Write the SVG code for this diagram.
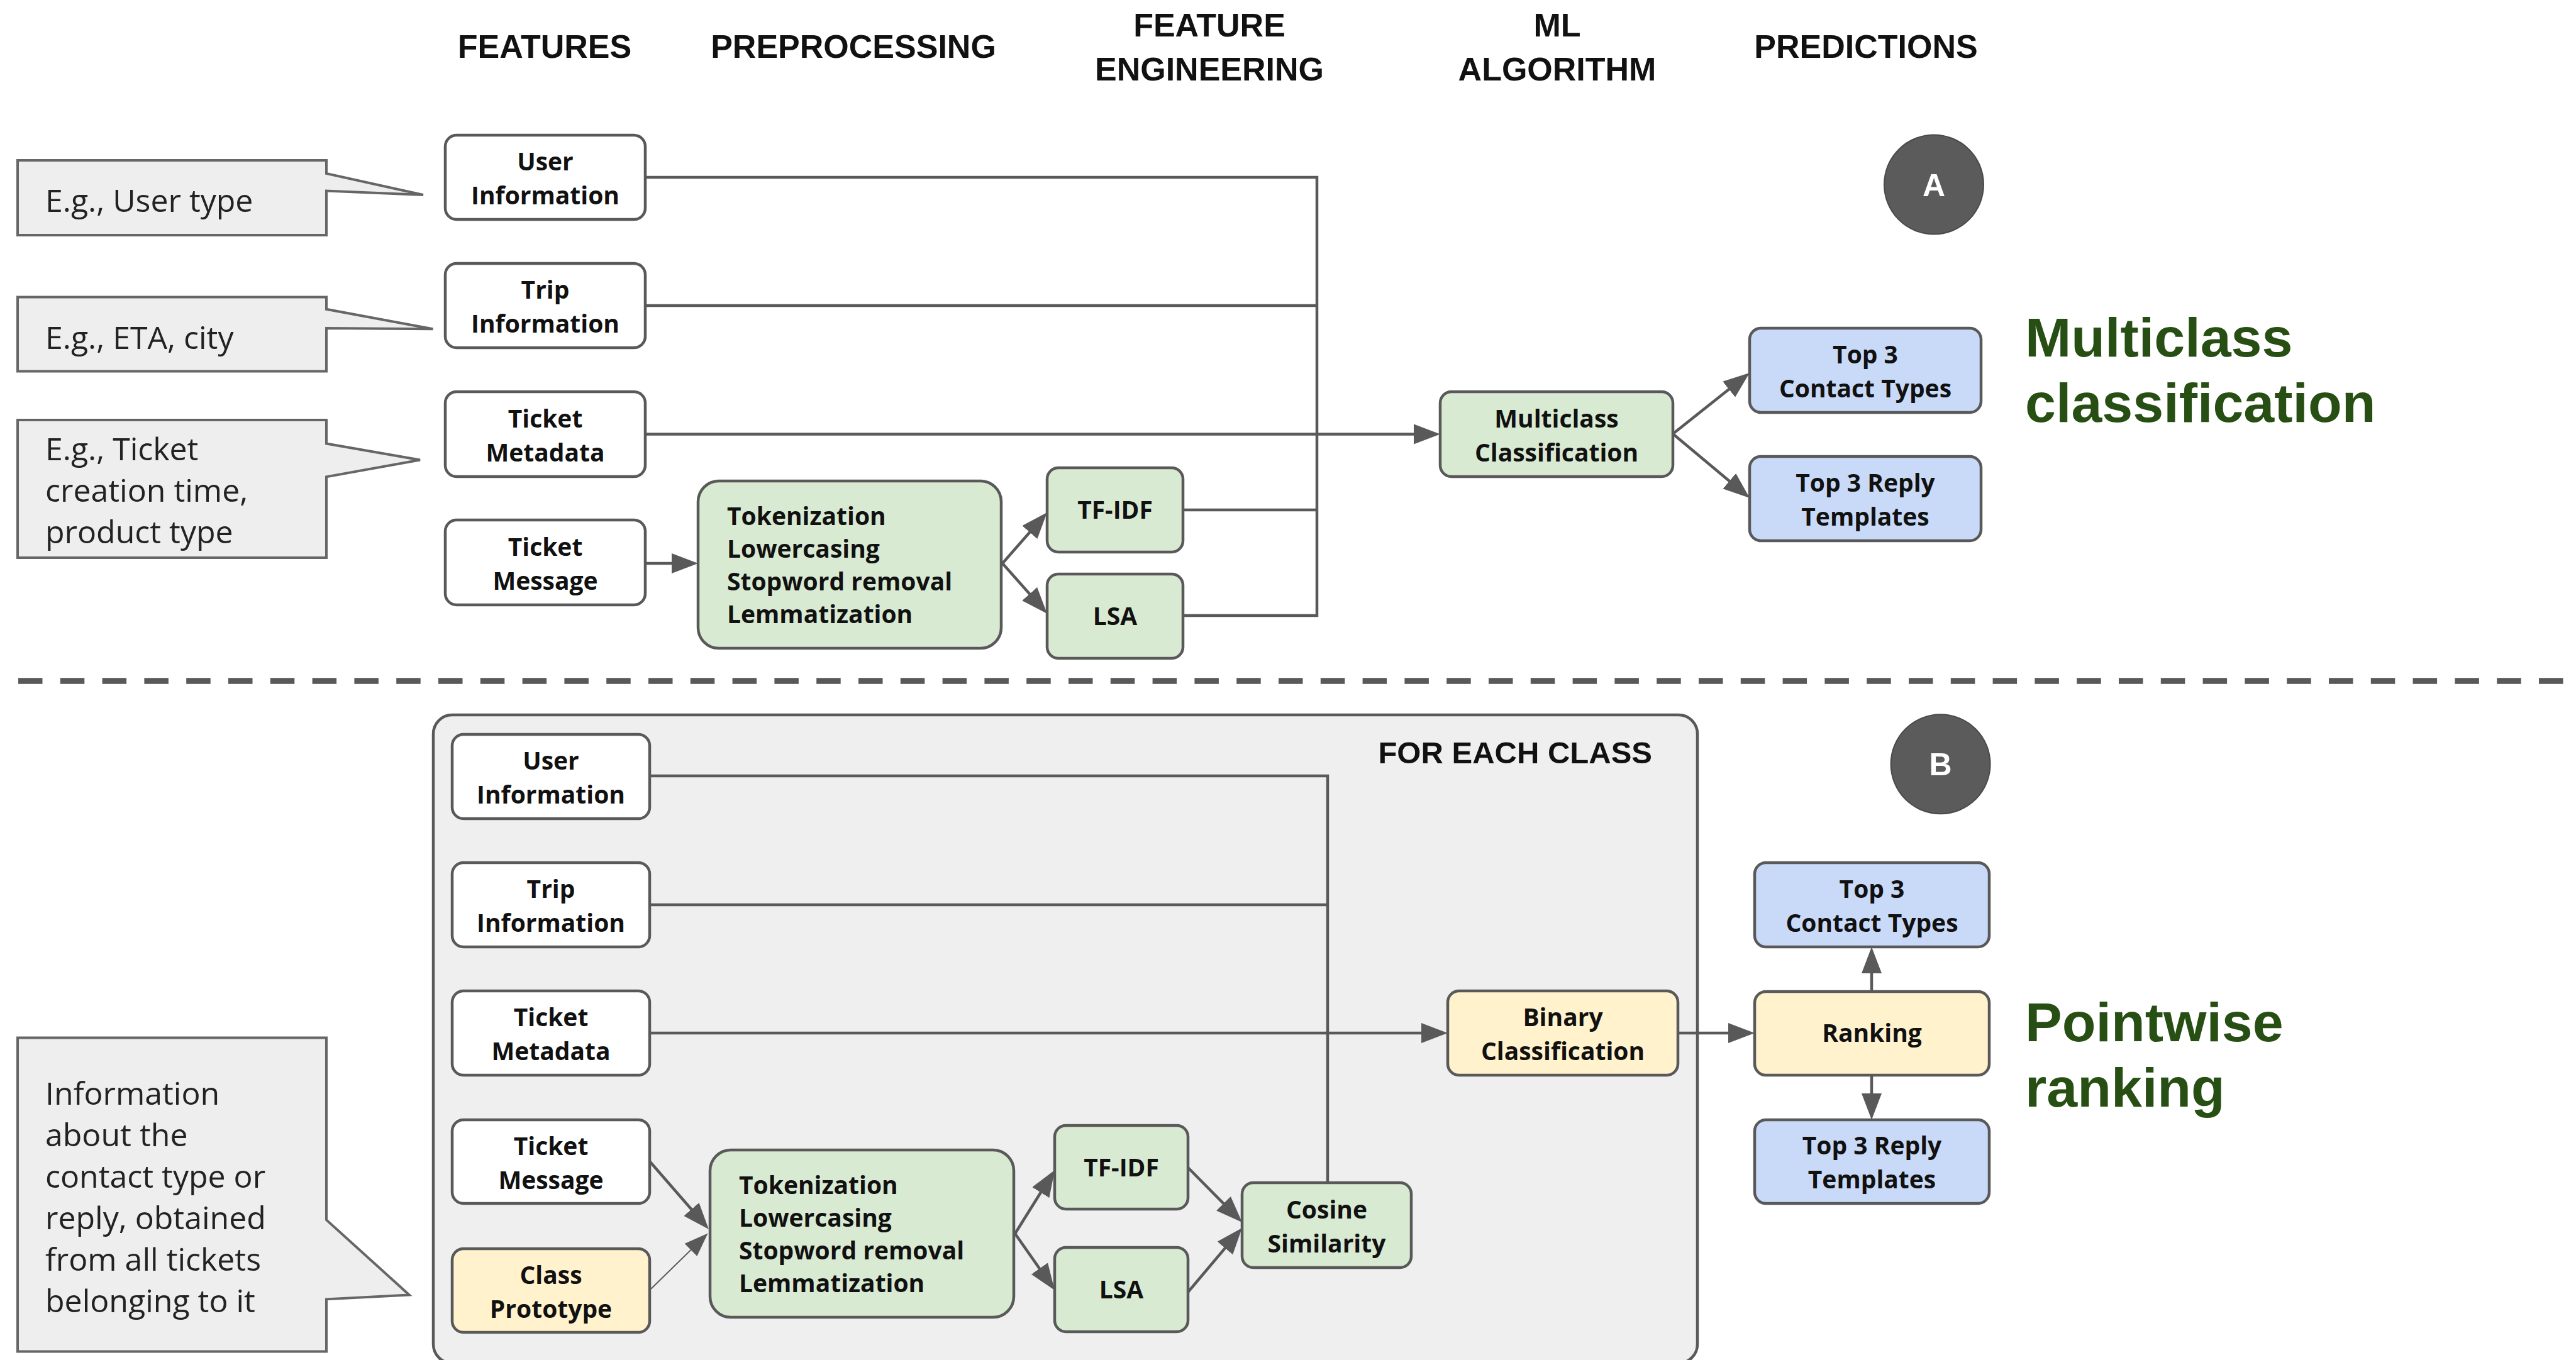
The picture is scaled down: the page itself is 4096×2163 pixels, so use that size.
<svg xmlns="http://www.w3.org/2000/svg" width="4096" height="2163" viewBox="0 0 4096 2163">
  <style>
    .hdr { font-family: "Liberation Sans", Arial, sans-serif; font-weight: 700; font-size: 52px; fill: #111; text-anchor: middle; }
    .node rect { stroke: #595959; stroke-width: 4.5; }
    .lbl { font-family: "Open Sans", "Liberation Sans", sans-serif; font-weight: 700; font-size: 39px; fill: #111; text-anchor: middle; }
    .lbl-left { font-family: "Open Sans", "Liberation Sans", sans-serif; font-weight: 700; font-size: 39px; fill: #111; }
    .white { fill: #ffffff; }
    .green { fill: #d9ead3; }
    .yellow { fill: #fff2cc; }
    .blue { fill: #c9daf8; }
    .note path { fill: #eeeeee; stroke: #666666; stroke-width: 4; }
    .note text { font-family: "Open Sans", "Liberation Sans", sans-serif; font-size: 50px; fill: #222; }
    .wire { fill: none; stroke: #595959; stroke-width: 4.5; }
    .thin { fill: none; stroke: #595959; stroke-width: 2; }
    .title { font-family: "Liberation Sans", Arial, sans-serif; font-weight: 700; font-size: 88px; fill: #274e13; }
    .badge circle { fill: #5b5b5b; stroke: #4a4a4a; stroke-width: 2; }
    .badge text { font-family: "Liberation Sans", Arial, sans-serif; font-weight: 700; font-size: 50px; fill: #ffffff; text-anchor: middle; }
  </style>
  <defs>
    <marker id="arrow" markerUnits="userSpaceOnUse" markerWidth="42" markerHeight="32" refX="34" refY="16" orient="auto">
      <path d="M0,0 L42,16 L0,32 Z" fill="#595959"/>
    </marker>
    <marker id="arrow-sm" markerUnits="userSpaceOnUse" markerWidth="38" markerHeight="28" refX="32" refY="14" orient="auto">
      <path d="M0,0 L38,14 L0,28 Z" fill="#595959"/>
    </marker>
  </defs>

  <rect width="4096" height="2163" fill="#ffffff"/>

  <!-- column headers -->
  <g id="headers">
    <text class="hdr" x="866" y="92">FEATURES</text>
    <text class="hdr" x="1357" y="92">PREPROCESSING</text>
    <text class="hdr" x="1923" y="58">FEATURE</text>
    <text class="hdr" x="1923" y="128">ENGINEERING</text>
    <text class="hdr" x="2476" y="58">ML</text>
    <text class="hdr" x="2476" y="128">ALGORITHM</text>
    <text class="hdr" x="2967" y="92">PREDICTIONS</text>
  </g>

  <!-- divider between the two pipelines -->
  <line id="divider" x1="29" y1="1083" x2="4080" y2="1083" stroke="#595959" stroke-width="9.6" stroke-dasharray="38.5 28.3"/>

  <!-- per-class container of pipeline B -->
  <g id="for-each-class">
    <rect x="689" y="1137" width="2010" height="1031" rx="30" fill="#efefef" stroke="#595959" stroke-width="4.5"/>
    <text x="2627" y="1214" font-family="Liberation Sans, Arial, sans-serif" font-weight="700" font-size="49" fill="#111" text-anchor="end">FOR EACH CLASS</text>
  </g>

  <!-- connectors -->
  <g id="connectors">
    <!-- pipeline A -->
    <path class="wire" d="M1026 282 H2094 V979 H1881"/>
    <path class="wire" d="M1026 486 H2094"/>
    <path class="wire" d="M1881 811 H2094"/>
    <path class="wire" d="M1026 690.5 H2282" marker-end="url(#arrow)"/>
    <path class="wire" d="M1026 896 H1102" marker-end="url(#arrow)"/>
    <path class="wire" d="M1594 896 L1659.7 821" marker-end="url(#arrow)"/>
    <path class="wire" d="M1594 896 L1659.7 970" marker-end="url(#arrow)"/>
    <path class="wire" d="M2660 690 L2775.7 598" marker-end="url(#arrow)"/>
    <path class="wire" d="M2660 690 L2775.9 786.9" marker-end="url(#arrow)"/>
    <!-- pipeline B -->
    <path class="wire" d="M1033 1234 H2111 V1881"/>
    <path class="wire" d="M1033 1439 H2111"/>
    <path class="wire" d="M1033 1643 H2294" marker-end="url(#arrow)"/>
    <path class="wire" d="M2668 1643 H2782" marker-end="url(#arrow)"/>
    <path class="wire" d="M2976 1577 V1514" marker-end="url(#arrow)"/>
    <path class="wire" d="M2976 1710 V1773" marker-end="url(#arrow)"/>
    <path class="wire" d="M1033 1847 L1121.7 1949" marker-end="url(#arrow)"/>
    <path class="thin" d="M1035 2050 L1121.3 1965.6" marker-end="url(#arrow-sm)"/>
    <path class="wire" d="M1614 1962 L1672.8 1867.8" marker-end="url(#arrow)"/>
    <path class="wire" d="M1614 1962 L1672.4 2045.4" marker-end="url(#arrow)"/>
    <path class="wire" d="M1889 1857 L1969.4 1938.3" marker-end="url(#arrow)"/>
    <path class="wire" d="M1889 2055 L1969.8 1959.1" marker-end="url(#arrow)"/>
  </g>

  <!-- pipeline A nodes -->
  <g id="a-user-info" class="node">
    <rect class="white" x="708" y="215" width="318" height="134" rx="18"/>
    <text class="lbl" x="867" y="271">User</text>
    <text class="lbl" x="867" y="325">Information</text>
  </g>
  <g id="a-trip-info" class="node">
    <rect class="white" x="708" y="419" width="318" height="134" rx="18"/>
    <text class="lbl" x="867" y="475">Trip</text>
    <text class="lbl" x="867" y="529">Information</text>
  </g>
  <g id="a-ticket-metadata" class="node">
    <rect class="white" x="708" y="623" width="318" height="135" rx="18"/>
    <text class="lbl" x="867" y="679.5">Ticket</text>
    <text class="lbl" x="867" y="733.5">Metadata</text>
  </g>
  <g id="a-ticket-message" class="node">
    <rect class="white" x="708" y="827" width="318" height="135" rx="18"/>
    <text class="lbl" x="867" y="883.5">Ticket</text>
    <text class="lbl" x="867" y="937.5">Message</text>
  </g>
  <g id="a-preprocessing" class="node">
    <rect class="green" x="1110" y="765" width="482" height="266" rx="33"/>
    <text class="lbl-left" x="1156" y="835">Tokenization</text>
    <text class="lbl-left" x="1156" y="887">Lowercasing</text>
    <text class="lbl-left" x="1156" y="939">Stopword removal</text>
    <text class="lbl-left" x="1156" y="991">Lemmatization</text>
  </g>
  <g id="a-tfidf" class="node">
    <rect class="green" x="1665" y="744" width="216" height="134" rx="18"/>
    <text class="lbl" x="1773" y="825">TF-IDF</text>
  </g>
  <g id="a-lsa" class="node">
    <rect class="green" x="1665" y="913" width="216" height="134" rx="18"/>
    <text class="lbl" x="1773" y="994">LSA</text>
  </g>
  <g id="a-multiclass" class="node">
    <rect class="green" x="2290" y="623" width="370" height="135" rx="18"/>
    <text class="lbl" x="2475" y="679.5">Multiclass</text>
    <text class="lbl" x="2475" y="733.5">Classification</text>
  </g>
  <g id="a-top3-contact" class="node">
    <rect class="blue" x="2782" y="522" width="368" height="134" rx="18"/>
    <text class="lbl" x="2966" y="578">Top 3</text>
    <text class="lbl" x="2966" y="632">Contact Types</text>
  </g>
  <g id="a-top3-reply" class="node">
    <rect class="blue" x="2782" y="726" width="368" height="134" rx="18"/>
    <text class="lbl" x="2966" y="782">Top 3 Reply</text>
    <text class="lbl" x="2966" y="836">Templates</text>
  </g>
  <g id="badge-a" class="badge">
    <circle cx="3075" cy="293.5" r="79"/>
    <text x="3075" y="311.5">A</text>
  </g>
  <text id="title-a" class="title"><tspan x="3220" y="567">Multiclass</tspan><tspan x="3220" y="671">classification</tspan></text>

  <!-- pipeline B nodes -->
  <g id="b-user-info" class="node">
    <rect class="white" x="719" y="1168" width="314" height="134" rx="18"/>
    <text class="lbl" x="876" y="1224">User</text>
    <text class="lbl" x="876" y="1278">Information</text>
  </g>
  <g id="b-trip-info" class="node">
    <rect class="white" x="719" y="1372" width="314" height="134" rx="18"/>
    <text class="lbl" x="876" y="1428">Trip</text>
    <text class="lbl" x="876" y="1482">Information</text>
  </g>
  <g id="b-ticket-metadata" class="node">
    <rect class="white" x="719" y="1576" width="314" height="134" rx="18"/>
    <text class="lbl" x="876" y="1632">Ticket</text>
    <text class="lbl" x="876" y="1686">Metadata</text>
  </g>
  <g id="b-ticket-message" class="node">
    <rect class="white" x="719" y="1781" width="314" height="133" rx="18"/>
    <text class="lbl" x="876" y="1836.5">Ticket</text>
    <text class="lbl" x="876" y="1890.5">Message</text>
  </g>
  <g id="b-class-prototype" class="node">
    <rect class="yellow" x="719" y="1986" width="314" height="133" rx="18"/>
    <text class="lbl" x="876" y="2041.5">Class</text>
    <text class="lbl" x="876" y="2095.5">Prototype</text>
  </g>
  <g id="b-preprocessing" class="node">
    <rect class="green" x="1129" y="1829" width="483" height="266" rx="33"/>
    <text class="lbl-left" x="1175" y="1899">Tokenization</text>
    <text class="lbl-left" x="1175" y="1951">Lowercasing</text>
    <text class="lbl-left" x="1175" y="2003">Stopword removal</text>
    <text class="lbl-left" x="1175" y="2055">Lemmatization</text>
  </g>
  <g id="b-tfidf" class="node">
    <rect class="green" x="1677" y="1790" width="212" height="133" rx="18"/>
    <text class="lbl" x="1783" y="1870.5">TF-IDF</text>
  </g>
  <g id="b-lsa" class="node">
    <rect class="green" x="1677" y="1984" width="212" height="134" rx="18"/>
    <text class="lbl" x="1783" y="2065">LSA</text>
  </g>
  <g id="b-cosine" class="node">
    <rect class="green" x="1975" y="1881" width="269" height="135" rx="18"/>
    <text class="lbl" x="2109.5" y="1937.5">Cosine</text>
    <text class="lbl" x="2109.5" y="1991.5">Similarity</text>
  </g>
  <g id="b-binary" class="node">
    <rect class="yellow" x="2302" y="1576" width="366" height="134" rx="18"/>
    <text class="lbl" x="2485" y="1632">Binary</text>
    <text class="lbl" x="2485" y="1686">Classification</text>
  </g>
  <g id="b-ranking" class="node">
    <rect class="yellow" x="2790" y="1577" width="373" height="133" rx="18"/>
    <text class="lbl" x="2976.5" y="1657">Ranking</text>
  </g>
  <g id="b-top3-contact" class="node">
    <rect class="blue" x="2790" y="1372" width="373" height="134" rx="18"/>
    <text class="lbl" x="2976.5" y="1428">Top 3</text>
    <text class="lbl" x="2976.5" y="1482">Contact Types</text>
  </g>
  <g id="b-top3-reply" class="node">
    <rect class="blue" x="2790" y="1781" width="373" height="133" rx="18"/>
    <text class="lbl" x="2976.5" y="1836">Top 3 Reply</text>
    <text class="lbl" x="2976.5" y="1890">Templates</text>
  </g>
  <g id="badge-b" class="badge">
    <circle cx="3085.6" cy="1215.3" r="79"/>
    <text x="3085.6" y="1233.3">B</text>
  </g>
  <text id="title-b" class="title"><tspan x="3220" y="1656">Pointwise</tspan><tspan x="3220" y="1760">ranking</tspan></text>

  <!-- explanatory callouts -->
  <g id="note-user" class="note">
    <path d="M28 255 H519 V276 L673 310 L519 303.5 V374 H28 Z"/>
    <text x="72" y="337">E.g., User type</text>
  </g>
  <g id="note-trip" class="note">
    <path d="M28 472.6 H519 V491.8 L688.5 523.3 L519 522 V590.4 H28 Z"/>
    <text x="72" y="555">E.g., ETA, city</text>
  </g>
  <g id="note-ticket" class="note">
    <path d="M28 668 H519 V705.5 L668 731.5 L519 758.3 V887 H28 Z"/>
    <text x="72" y="731.5">E.g., Ticket</text>
    <text x="72" y="798">creation time,</text>
    <text x="72" y="864.4">product type</text>
  </g>
  <g id="note-prototype" class="note">
    <path d="M28 1650.4 H519 V1940.2 L650.7 2059.4 L519 2066.3 V2149.4 H28 Z"/>
    <text x="72" y="1756.5">Information</text>
    <text x="72" y="1822.5">about the</text>
    <text x="72" y="1888.5">contact type or</text>
    <text x="72" y="1954.5">reply, obtained</text>
    <text x="72" y="2020.5">from all tickets</text>
    <text x="72" y="2087">belonging to it</text>
  </g>
</svg>
